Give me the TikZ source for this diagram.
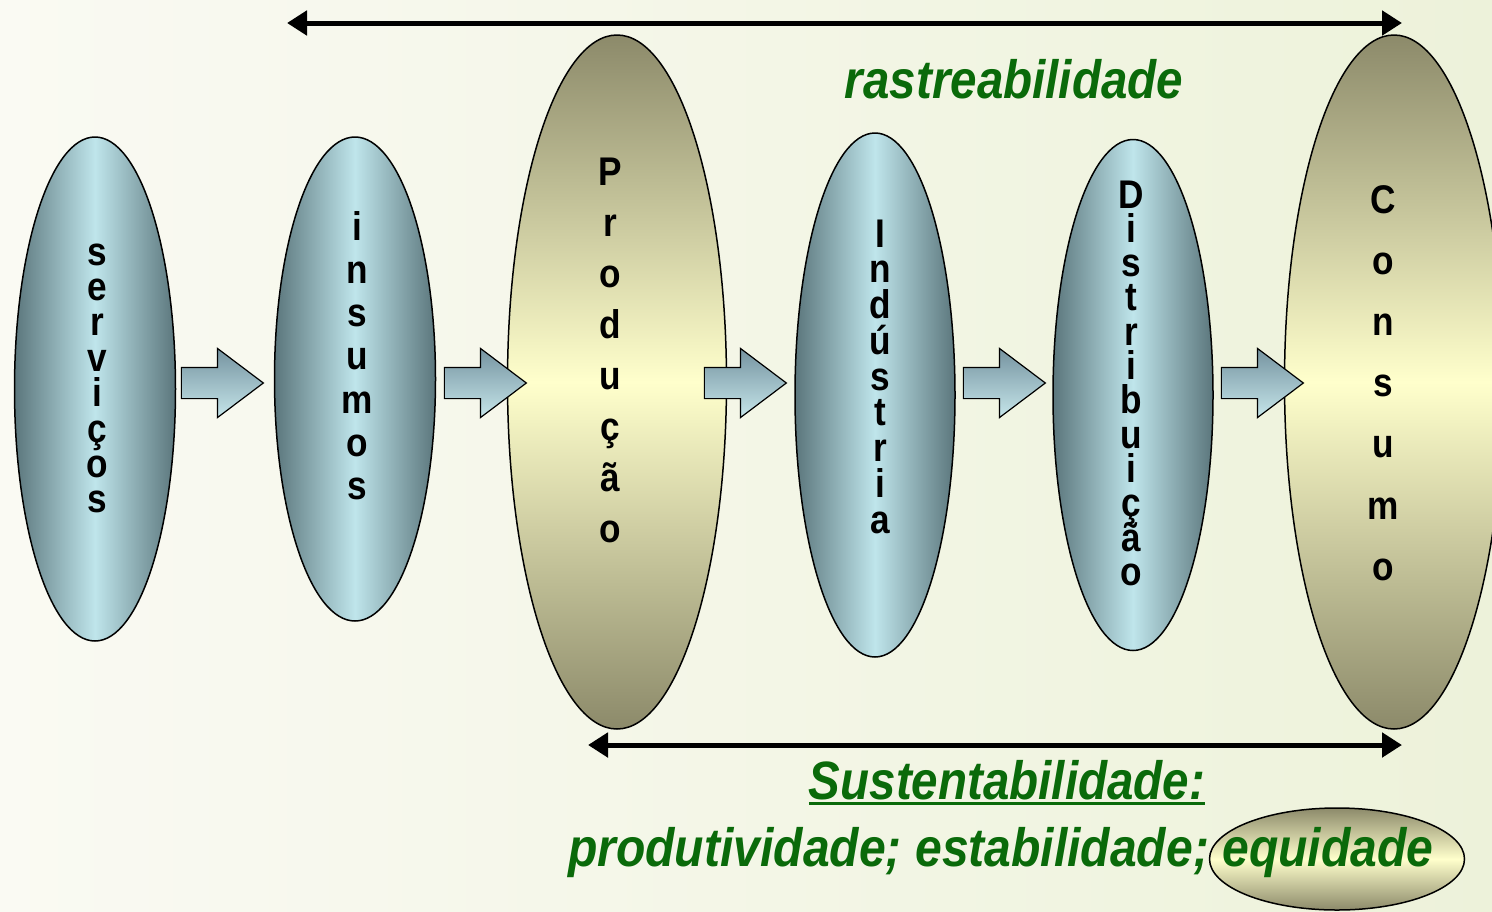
\documentclass[tikz,border=0pt]{standalone}
\usepackage{fontspec}
\setmainfont{Liberation Sans}
\newfontfamily\narrowsans[FakeStretch=0.88]{Liberation Sans}
\newfontfamily\narrowsansb[FakeStretch=0.89]{Liberation Sans}
\usetikzlibrary{shapes.geometric,shapes.arrows,arrows.meta}
\definecolor{bgA}{HTML}{FAFAF3}
\definecolor{bgB}{HTML}{EDF2DA}
\definecolor{bdark}{HTML}{5B767C}
\definecolor{blight}{HTML}{BFE5EB}
\definecolor{odark}{HTML}{8C8A6A}
\definecolor{olight}{HTML}{FFFFCC}
\definecolor{arrA}{HTML}{7593A0}
\definecolor{arrB}{HTML}{C6E6EA}
\definecolor{txtgreen}{HTML}{0A6A0A}
\tikzset{
  blueell/.style={ellipse, draw=black, line width=1.5, inner sep=0,
    left color=bdark, right color=bdark, middle color=blight},
  oliveell/.style={ellipse, draw=black, line width=1.5, inner sep=0,
    top color=odark, bottom color=odark, middle color=olight},
  lett/.style={inner sep=0, anchor=base, font=\narrowsans\bfseries\fontsize{40}{40}\selectfont},
  blockarr/.style={single arrow, draw=black, line width=1.2, inner xsep=0, inner ysep=15,
    text height=0pt, text depth=0pt, minimum height=82, minimum width=68,
    single arrow head extend=19, single arrow tip angle=74,
    top color=arrA, bottom color=arrB},
  longarr/.style={line width=5, {Triangle[length=20pt,width=24pt]}-{Triangle[length=20pt,width=24pt]}},
  greentxt/.style={inner sep=0, text=txtgreen, font=\narrowsans\bfseries\itshape\fontsize{54}{54}\selectfont}
}
\newcommand\vletters[5]{%
  \foreach \c [count=\i from 0] in {#5} \node[lett] (#1\i) at (#2, {#3+#4*\i}) {\c};}
\begin{document}
\begin{tikzpicture}[x=1pt,y=-1pt]
\useasboundingbox (0,0) rectangle (1492,911);
\shade[left color=bgA, right color=bgB] (0,0) rectangle (1492,911);

% ellipses
\node[blueell, minimum width=161, minimum height=504] (serv) at (95,389) {};
\node[blueell, minimum width=161, minimum height=484] (ins) at (355,379) {};
\node[oliveell, minimum width=219, minimum height=694] (prod) at (617,382) {};
\node[blueell, minimum width=160, minimum height=524] (ind) at (875,395) {};
\node[blueell, minimum width=160, minimum height=511] (dist) at (1133,395) {};
\node[oliveell, minimum width=219, minimum height=694] (cons) at (1394,382) {};

% vertical words
\vletters{sv}{97}{265}{35.4}{s,e,r,v,i,ç,o,s}
\vletters{in}{357}{240}{43.3}{i,n,s,u,m,o,s}
\vletters{pr}{610}{185}{51.1}{P,r,o,d,u,ç,ã,o}
\vletters{id}{880}{247}{35.75}{I,n,d,ú,s,t,r,i,a}
\vletters{di}{1131}{208}{34.3}{D,i,s,t,r,i,b,u,i,ç,ã,o}
\vletters{co}{1383}{213}{61.2}{C,o,n,s,u,m,o}

% block arrows
\node[blockarr] (a1) at (212,383) {};
\node[blockarr] (a2) at (475,383) {};
\node[blockarr] (a3) at (735,383) {};
\node[blockarr] (a4) at (994,383) {};
\node[blockarr] (a5) at (1252,383) {};

% long arrows
\coordinate (tl) at (287,23);
\coordinate (tr) at (1402,23);
\draw[longarr] (tl) -- (tr);
\coordinate (bl) at (588,745);
\coordinate (br) at (1402,745);
\draw[longarr] (bl) -- (br);

% texts
\node[greentxt, anchor=base] (rastr) at (1014,98) {rastreabilidade};
\node[greentxt, anchor=base] (sust) at (1007,799) {Sustentabilidade:};
\draw[txtgreen, line width=3] ([yshift=-4pt]sust.base west) -- ([yshift=-4pt]sust.base east);
\node[oliveell, minimum width=255, minimum height=102] (eqell) at (1337,859) {};
\node[greentxt, font=\narrowsansb\bfseries\itshape\fontsize{54}{54}\selectfont, anchor=base west] (line) at (568,866) {produtividade; estabilidade; equidade};
\end{tikzpicture}
\end{document}
